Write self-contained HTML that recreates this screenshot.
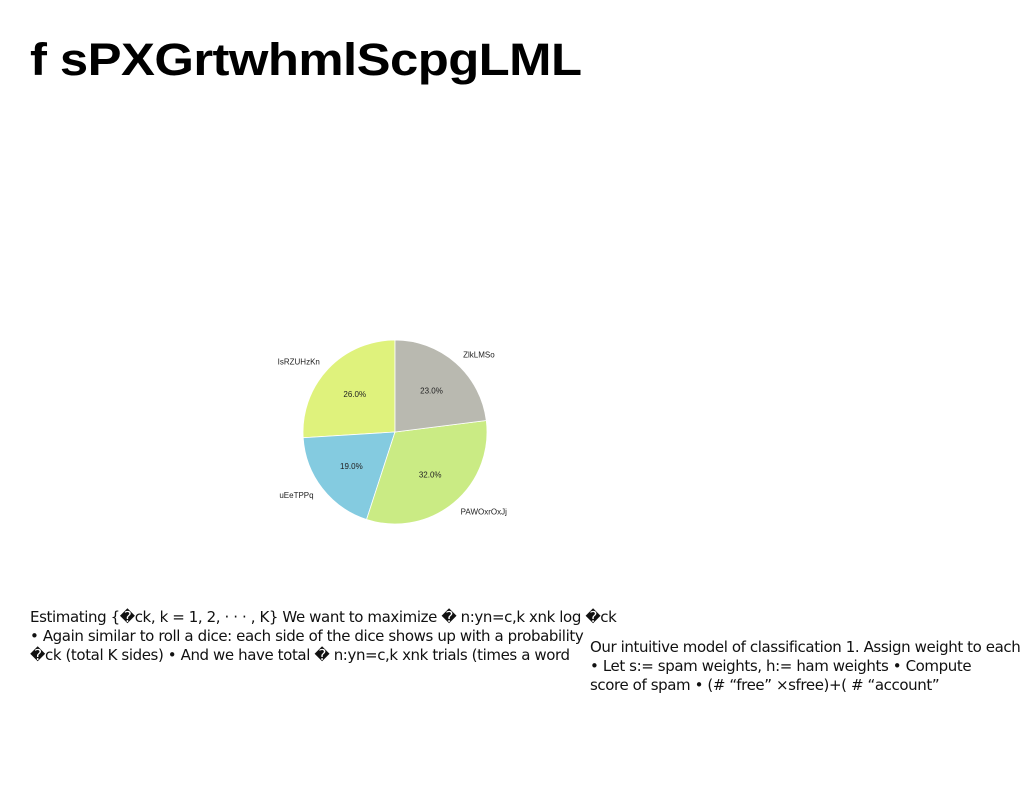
<!DOCTYPE html>
<html><head><meta charset="utf-8"><style>
body{margin:0;width:1024px;height:788px;background:#fff;position:relative;overflow:hidden;font-family:"Liberation Sans","DejaVu Sans",sans-serif}
h1{position:absolute;left:30px;top:34px;margin:0;font-size:45px;font-weight:900;letter-spacing:-0.5px;color:#000;transform:scaleX(1.13);transform-origin:0 0;white-space:nowrap}
.t{position:absolute;font-size:15px;line-height:19px;color:#111;font-family:"DejaVu Sans","Liberation Sans",sans-serif;letter-spacing:-0.4px;white-space:nowrap}
</style></head><body>
<h1>f sPXGrtwhmlScpgLML</h1>
<svg id="chart" width="1024" height="788" style="position:absolute;left:0;top:0"></svg>
<div class="t" style="left:30px;top:608px">Estimating {�ck, k = 1, 2, · · · , K} We want to maximize � n:yn=c,k xnk log �ck<br>• Again similar to roll a dice: each side of the dice shows up with a probability<br>�ck (total K sides) • And we have total � n:yn=c,k xnk trials (times a word</div>
<div class="t" style="left:590px;top:638px">Our intuitive model of classification 1. Assign weight to each<br>• Let s:= spam weights, h:= ham weights • Compute<br>score of spam • (# “free” ×sfree)+( # “account”</div>
<script>
const labels=["IsRZUHzKn","uEeTPPq","PAWOxrOxJj","ZlkLMSo"];
const values=[26,19,32,23];
const colors=["#dff27c","#84cbe0","#caeb84","#b9b9b0"];
const svg=document.getElementById('chart');
const NS="http://www.w3.org/2000/svg";
const cx=395,cy=432,r=92;
const total=values.reduce((a,b)=>a+b,0);
let a=90;
function pt(deg,rr){const t=deg*Math.PI/180;return [cx+rr*Math.cos(t),cy-rr*Math.sin(t)];}
values.forEach((v,i)=>{
  const sweep=v/total*360,a2=a+sweep;
  const [x1,y1]=pt(a,r),[x2,y2]=pt(a2,r);
  const p=document.createElementNS(NS,'path');
  p.setAttribute('d',`M${cx},${cy}L${x1},${y1}A${r},${r} 0 ${sweep>180?1:0} 0 ${x2},${y2}Z`);
  p.setAttribute('fill',colors[i]);p.setAttribute('stroke','#fff');p.setAttribute('stroke-width','0.8');
  
  
  svg.appendChild(p);
  const mid=(a+a2)/2;
  const [px,py]=pt(mid,r*0.6);
  const t=document.createElementNS(NS,'text');
  t.setAttribute('x',px);t.setAttribute('y',py+3);t.setAttribute('text-anchor','middle');
  t.setAttribute('font-size','8');t.setAttribute('fill','#222');t.textContent=(v/total*100).toFixed(1)+'%';
  
  
  svg.appendChild(t);
  const [lx,ly]=pt(mid,r*1.12);
  const l=document.createElementNS(NS,'text');
  l.setAttribute('x',lx);l.setAttribute('y',ly+3);
  l.setAttribute('text-anchor',Math.cos(mid*Math.PI/180)<0?'end':'start');
  l.setAttribute('font-size','8');l.setAttribute('fill','#222');l.textContent=labels[i];
  
  
  svg.appendChild(l);
  a=a2;
});
</script>
</body></html>
